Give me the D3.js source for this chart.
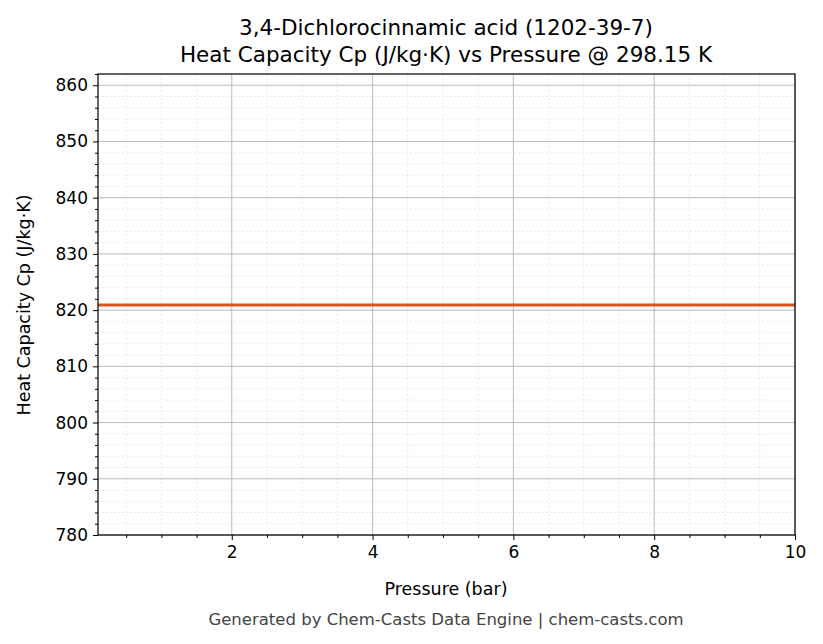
<!DOCTYPE html><html><head><meta charset="utf-8"><script src="https://d3js.org/d3.v7.min.js"></script>
<style>body{margin:0;background:#fff;font-family:"DejaVu Sans",sans-serif}</style></head><body><svg id="c" width="823" height="644"></svg><script>
const pressures=[0.1,10];
const cpValues=[820.9,820.9];
const xTicks=[2,4,6,8,10];
const yTicks=[780,790,800,810,820,830,840,850,860];
const svg=d3.select("#c");
const L=98,R=795,T=74,B=535;
const x=d3.scaleLinear().domain([0.1,10]).range([L,R]);
const y=d3.scaleLinear().domain([780,862]).range([B,T]);
const g=svg.append("g");
const xMinor=d3.range(0.5,10.01,0.5), yMinor=d3.range(780,862.1,2);
g.selectAll(".xm").data(xMinor).enter().append("line").attr("x1",d=>x(d)).attr("x2",d=>x(d)).attr("y1",T).attr("y2",B).attr("stroke","#ddd").attr("stroke-width",0.6).attr("stroke-dasharray","2,2");
g.selectAll(".ym").data(yMinor).enter().append("line").attr("y1",d=>y(d)).attr("y2",d=>y(d)).attr("x1",L).attr("x2",R).attr("stroke","#ddd").attr("stroke-width",0.6).attr("stroke-dasharray","2,2");
g.selectAll(".xg").data(xTicks).enter().append("line").attr("x1",d=>x(d)).attr("x2",d=>x(d)).attr("y1",T).attr("y2",B).attr("stroke","#b0b0b0").attr("stroke-width",0.8);
g.selectAll(".yg").data(yTicks).enter().append("line").attr("y1",d=>y(d)).attr("y2",d=>y(d)).attr("x1",L).attr("x2",R).attr("stroke","#b0b0b0").attr("stroke-width",0.8);
svg.append("path").datum(pressures.map((p,i)=>[p,cpValues[i]])).attr("d",d3.line().x(d=>x(d[0])).y(d=>y(d[1]))).attr("stroke","#d9541e").attr("stroke-width",3).attr("fill","none");
svg.append("g").attr("transform",`translate(0,${B})`).call(d3.axisBottom(x).tickValues(xTicks).tickSize(5).tickPadding(6));
svg.append("g").attr("transform",`translate(0,${B})`).call(d3.axisBottom(x).tickValues(xMinor.filter(v=>v%2!==0)).tickSize(3).tickFormat(""));
svg.append("g").attr("transform",`translate(${L},0)`).call(d3.axisLeft(y).tickValues(yTicks).tickSize(5).tickPadding(5));
svg.append("g").attr("transform",`translate(${L},0)`).call(d3.axisLeft(y).tickValues(yMinor.filter(v=>v%10!==0)).tickSize(3).tickFormat(""));
svg.selectAll(".domain").remove();
svg.selectAll(".tick text").attr("font-size",17).attr("fill","#000").attr("font-family","DejaVu Sans");
svg.selectAll(".tick line").attr("stroke","#000");
svg.append("rect").attr("x",L).attr("y",T).attr("width",R-L).attr("height",B-T).attr("fill","none").attr("stroke","#000").attr("stroke-width",1.2);
const t=(s,X,Y,sz,c,rot)=>{const e=svg.append("text").text(s).attr("x",X).attr("y",Y).attr("font-size",sz).attr("fill",c||"#000").attr("text-anchor","middle");if(rot)e.attr("transform",`rotate(-90,${X},${Y})`);};
t("3,4-Dichlorocinnamic acid (1202-39-7)",446,35,21.5);
t("Heat Capacity Cp (J/kg·K) vs Pressure @ 298.15 K",446,62,21.5);
t("Pressure (bar)",446,595,17.5);
t("Heat Capacity Cp (J/kg·K)",30,305,17.5,"#000",true);
t("Generated by Chem-Casts Data Engine | chem-casts.com",446,625,16.5,"#444");
</script></body></html>
